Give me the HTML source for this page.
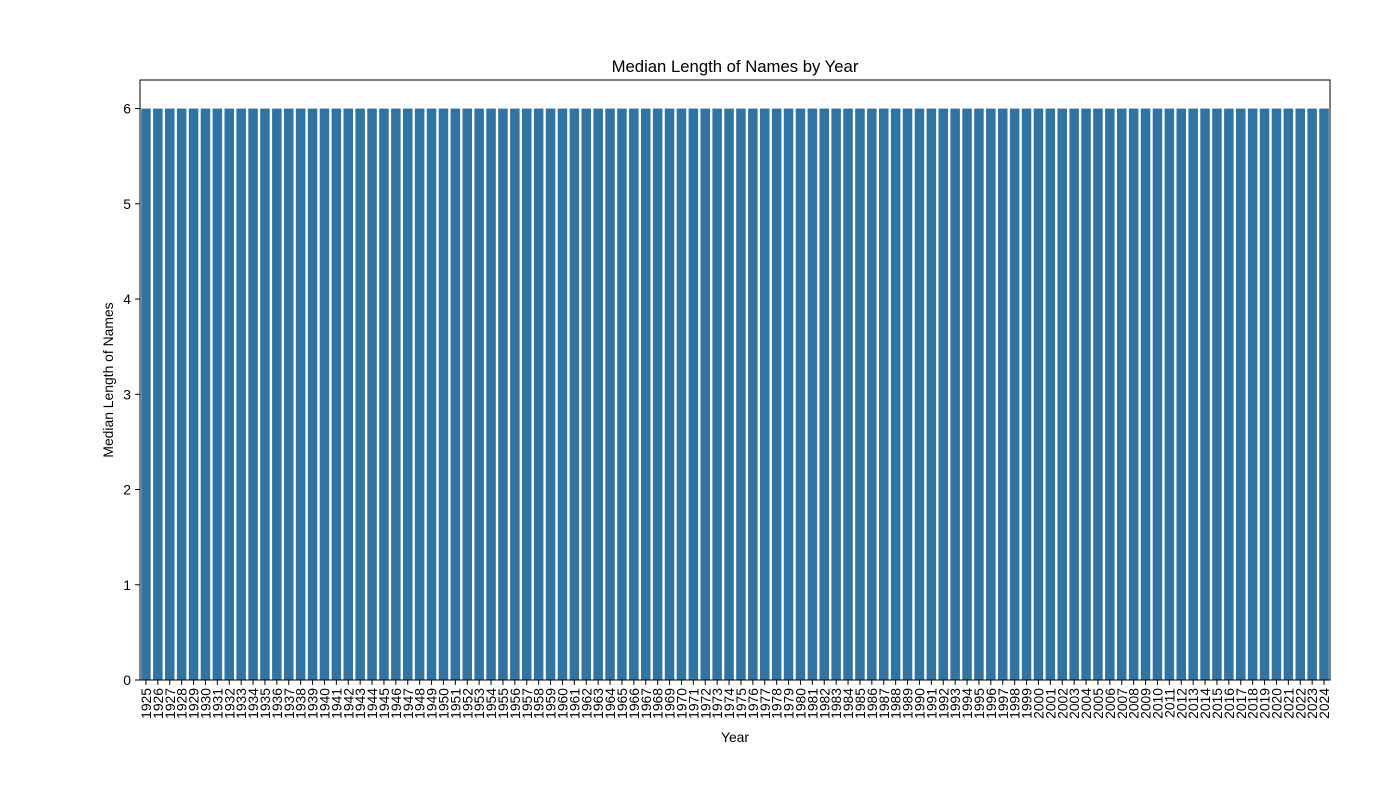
<!DOCTYPE html>
<html><head><meta charset="utf-8"><style>
body{margin:0;background:#fff;}
svg text{font-family:"Liberation Sans",sans-serif;fill:#000;}
</style></head><body>
<svg id="chart" width="1400" height="800" xmlns="http://www.w3.org/2000/svg">
<rect width="1400" height="800" fill="#fff"/>
<text x="735" y="72" text-anchor="middle" font-size="16.7">Median Length of Names by Year</text>
<text x="735" y="742" text-anchor="middle" font-size="13.9">Year</text>
<text transform="translate(113,380) rotate(-90)" text-anchor="middle" font-size="13.9">Median Length of Names</text>
<g id="bars"></g>
<g id="xticks"></g>
<g id="yticks"></g>
<rect x="140" y="80" width="1190" height="600" fill="none" stroke="#000" stroke-width="1"/>
</svg>
<script>
const years = [];
for (let y = 1925; y <= 2024; y++) years.push(y);
const medianLengths = [6,6,6,6,6,6,6,6,6,6,6,6,6,6,6,6,6,6,6,6,6,6,6,6,6,6,6,6,6,6,6,6,6,6,6,6,6,6,6,6,6,6,6,6,6,6,6,6,6,6,6,6,6,6,6,6,6,6,6,6,6,6,6,6,6,6,6,6,6,6,6,6,6,6,6,6,6,6,6,6,6,6,6,6,6,6,6,6,6,6,6,6,6,6,6,6,6,6,6,6];
const yTickValues = [0,1,2,3,4,5,6];

const NS = "http://www.w3.org/2000/svg";
const L = 140, R = 1330, T = 80, B = 680, YMAX = 6.3;
const band = (R - L) / years.length;
const xScale = i => L + i * band;
const yScale = v => B - v / YMAX * (B - T);

const gb = document.getElementById('bars');
const gx = document.getElementById('xticks');
const gy = document.getElementById('yticks');

years.forEach((yr, i) => {
  const v = medianLengths[i];
  const r = document.createElementNS(NS, 'rect');
  r.setAttribute('x', xScale(i) + band * 0.1);
  r.setAttribute('width', band * 0.8);
  r.setAttribute('y', yScale(v));
  r.setAttribute('height', B - yScale(v));
  r.setAttribute('fill', '#3274a1');
  
  
  gb.appendChild(r);

  const cx = xScale(i) + band / 2;
  const t = document.createElementNS(NS, 'line');
  t.setAttribute('x1', cx); t.setAttribute('x2', cx);
  t.setAttribute('y1', B); t.setAttribute('y2', B + 4.9);
  t.setAttribute('stroke', '#000');
  
  
  gx.appendChild(t);

  const lb = document.createElementNS(NS, 'text');
  lb.setAttribute('transform', `translate(${cx + 5},${B + 8}) rotate(-90)`);
  lb.setAttribute('text-anchor', 'end');
  lb.setAttribute('font-size', '13.9');
  lb.textContent = yr;
  
  
  gx.appendChild(lb);
});

yTickValues.forEach(v => {
  const y = yScale(v);
  const t = document.createElementNS(NS, 'line');
  t.setAttribute('x1', L - 4.9); t.setAttribute('x2', L);
  t.setAttribute('y1', y); t.setAttribute('y2', y);
  t.setAttribute('stroke', '#000');
  
  
  gy.appendChild(t);
  const lb = document.createElementNS(NS, 'text');
  lb.setAttribute('x', L - 9);
  lb.setAttribute('y', y + 5);
  lb.setAttribute('text-anchor', 'end');
  lb.setAttribute('font-size', '13.9');
  lb.textContent = v;
  
  
  gy.appendChild(lb);
});
</script>
</body></html>
